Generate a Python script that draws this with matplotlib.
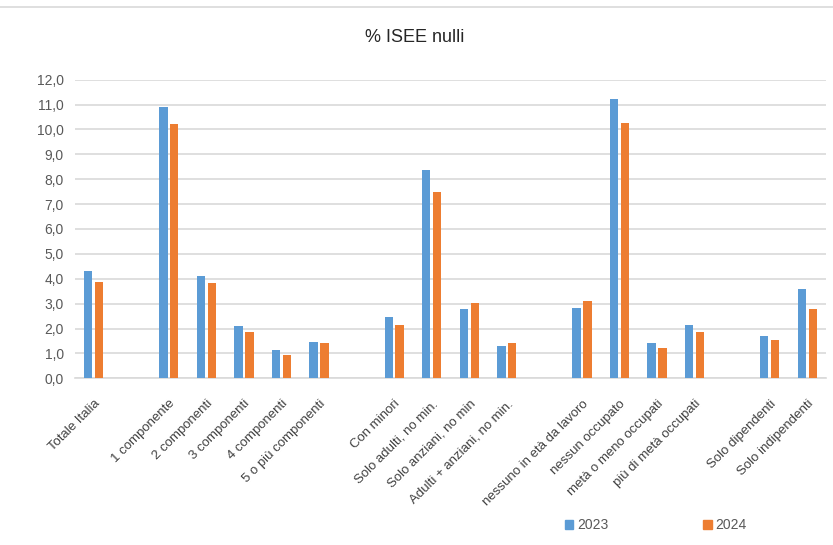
import numpy as np
import matplotlib.pyplot as plt
from matplotlib.lines import Line2D
from matplotlib.patches import Patch

categories = [
    "Totale Italia", "",
    "1 componente", "2 componenti", "3 componenti", "4 componenti", "5 o più componenti", "",
    "Con minori", "Solo adulti, no min.", "Solo anziani, no min", "Adulti + anziani, no min.", "",
    "nessuno in età da lavoro", "nessun occupato", "metà o meno occupati", "più di metà occupati", "",
    "Solo dipendenti", "Solo indipendenti",
]
v2023 = [4.30, None, 10.92, 4.13, 2.12, 1.14, 1.47, None,
         2.45, 8.36, 2.78, 1.30, None,
         2.81, 11.24, 1.40, 2.14, None,
         1.70, 3.59]
v2024 = [3.87, None, 10.22, 3.83, 1.85, 0.94, 1.41, None,
         2.14, 7.48, 3.01, 1.40, None,
         3.12, 10.27, 1.20, 1.85, None,
         1.54, 2.78]

plt.rcParams['font.family'] = ['Liberation Sans Narrow', 'Liberation Sans', 'DejaVu Sans']

blue = "#5B9BD5"
orange = "#ED7D31"
grid = "#D9D9D9"
txt = "#595959"

fig = plt.figure(figsize=(8.33, 5.45), dpi=100)
ax = fig.add_axes([75 / 833, (545 - 378.3) / 545, (826 - 75) / 833, (378.3 - 79.7) / 545])

x = np.arange(len(categories))
a = np.array([np.nan if v is None else v for v in v2023])
b = np.array([np.nan if v is None else v for v in v2024])
w = 0.22
ax.bar(x - 0.145, a, w, color=blue, zorder=3)
ax.bar(x + 0.145, b, w, color=orange, zorder=3)

ax.set_xlim(-0.5, len(categories) - 0.5)
ax.set_ylim(0, 12)
ax.set_yticks(np.arange(0, 13, 1))
ax.set_yticklabels([f"{v:.1f}".replace(".", ",") for v in range(13)], fontsize=10, color=txt)
ax.set_xticks(x)
ax.set_xticklabels(categories, rotation=45, ha="right", rotation_mode="anchor",
                   fontsize=9.5, color="#404040")
ax.tick_params(axis="both", length=0)
ax.tick_params(axis="x", pad=14)
ax.tick_params(axis="y", pad=8)
ax.grid(axis="y", color=grid, linewidth=1.2, zorder=0)
for s in ["top", "right", "left"]:
    ax.spines[s].set_visible(False)
ax.spines["bottom"].set_color(grid)
ax.spines["bottom"].set_linewidth(1.2)

fig.text(415 / 833, 1 - 38 / 545, "% ISEE nulli", ha="center", va="center",
         fontsize=13, color="#262626")
fig.add_artist(Line2D([0, 1], [1 - 7 / 545, 1 - 7 / 545], color=grid, linewidth=1.2,
                      transform=fig.transFigure))

handles = [Patch(color=blue), Patch(color=orange)]
fig.legend(handles, ["2023", "2024"], loc="center", bbox_to_anchor=(656 / 833, 1 - 525 / 545),
           ncol=2, frameon=False, fontsize=10, handlelength=0.6, handleheight=0.6,
           handletextpad=0.3, columnspacing=6.8, labelcolor=txt)

fig.savefig("out.png", dpi=100)
